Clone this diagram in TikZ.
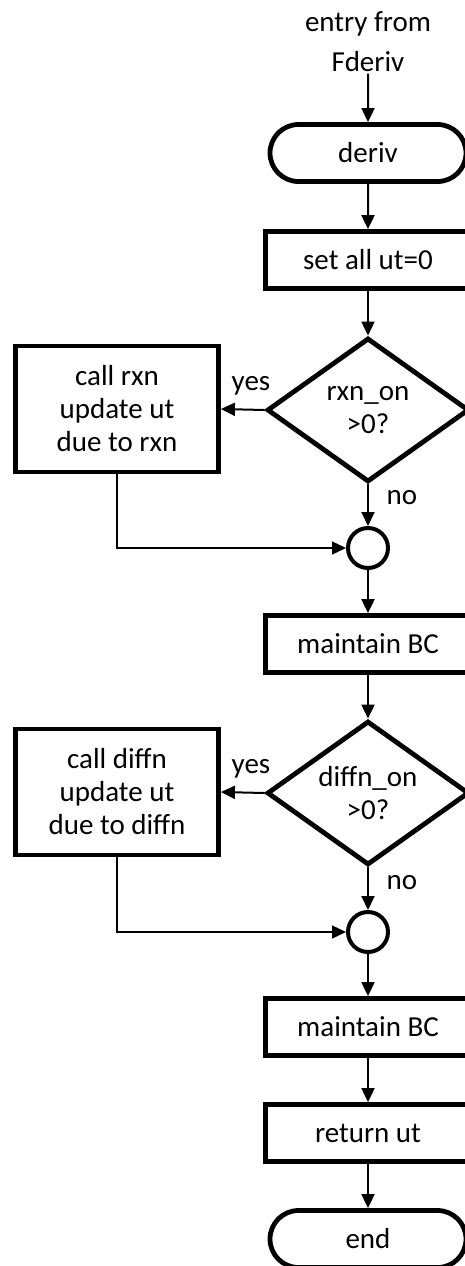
\documentclass[tikz,border=0pt]{standalone}
\usepackage{fontspec}
\setmainfont{Carlito}
\usetikzlibrary{arrows.meta, shapes.geometric, shapes.misc}

\tikzset{
  block/.style={draw, line width=4.8pt, minimum width=205pt, minimum height=57pt, inner sep=0pt},
  term/.style={draw, rounded rectangle, line width=4.8pt, minimum width=196pt, minimum height=57pt, inner sep=0pt},
  decision/.style={draw, diamond, aspect=1.4, line width=4.8pt, minimum width=202pt, minimum height=144pt, inner sep=0pt, align=center},
  joint/.style={draw, circle, line width=4pt, minimum size=40pt, inner sep=0pt},
  flow/.style={line width=2pt, -{Triangle[length=14pt,width=13pt]}},
  back/.style={line width=1.4pt, -{Triangle[length=14pt,width=13pt]}},
}

\begin{document}
\begin{tikzpicture}[x=1pt,y=1pt,yscale=-1,font=\fontsize{29}{33}\selectfont]
\useasboundingbox (0,0) rectangle (465,1266);

% main column
\node [align=center, font=\fontsize{29}{40}\selectfont] (entry) at (368,42) {entry from\\Fderiv};
\node [term] (deriv) at (368,153) {deriv};
\node [block] (zero) at (368,260) {set all ut=0};
\node [decision] (rxnq) at (368,410) {rxn\_on\\>0?};
\node [joint] (join1) at (368,548) {};
\node [block] (bc1) at (368,644) {maintain BC};
\node [decision] (diffq) at (368,793) {diffn\_on\\>0?};
\node [joint] (join2) at (368,932) {};
\node [block] (bc2) at (368,1027) {maintain BC};
\node [block] (ret) at (368,1133) {return ut};
\node [term] (finish) at (368,1239) {end};

% side boxes
\node [block, align=center, minimum width=203pt, minimum height=126pt] (rxnbox) at (117,409) {call rxn\\update ut\\due to rxn};
\node [block, align=center, minimum width=203pt, minimum height=126pt] (diffbox) at (117,792) {call diffn\\update ut\\due to diffn};

% branch labels
\node (yes1) at (251,386) {yes};
\node (no1) at (402,498) {no};
\node (yes2) at (251,769) {yes};
\node (no2) at (402,883) {no};

% connectors
\draw [flow] ([yshift=-2pt]entry.south) -- (deriv);
\draw [flow] (deriv) -- (zero);
\draw [flow] (zero) -- (rxnq);
\draw [flow] (rxnq.west) -- (rxnbox.east);
\draw [flow] (rxnq.south) -- (join1);
\draw [back] (rxnbox.south) |- (join1.west);
\draw [flow] (join1) -- (bc1);
\draw [flow] (bc1) -- (diffq);
\draw [flow] (diffq.west) -- (diffbox.east);
\draw [flow] (diffq.south) -- (join2);
\draw [back] (diffbox.south) |- (join2.west);
\draw [flow] (join2) -- (bc2);
\draw [flow] (bc2) -- (ret);
\draw [flow] (ret) -- (finish);
\end{tikzpicture}
\end{document}
